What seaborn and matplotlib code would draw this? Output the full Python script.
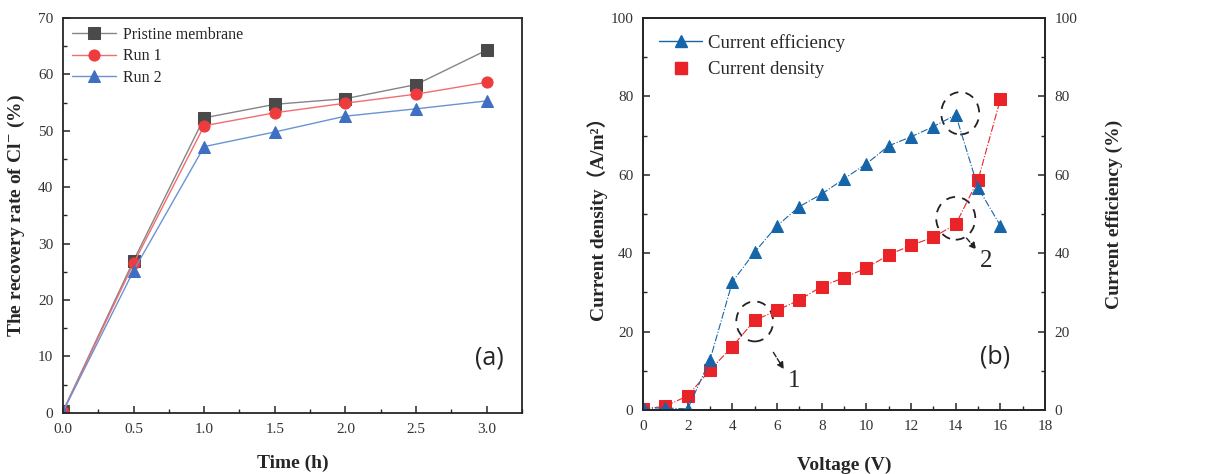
import numpy as np
import pandas as pd
import matplotlib
matplotlib.use('Agg')
import matplotlib.pyplot as plt
import seaborn as sns
from matplotlib.patches import Ellipse
from matplotlib.lines import Line2D

# (a) recovery rate of Cl- vs time
time_h = [0.0, 0.5, 1.0, 1.5, 2.0, 2.5, 3.0]
pristine = [0.3, 27.0, 52.3, 54.7, 55.7, 58.2, 64.3]
run1 = [0.2, 26.5, 50.9, 53.2, 54.9, 56.5, 58.6]
run2 = [0.2, 25.2, 47.2, 49.8, 52.6, 53.9, 55.3]

# (b) current efficiency / density vs voltage
voltage = [0, 1, 2, 3, 4, 5, 6, 7, 8, 9, 10, 11, 12, 13, 14, 15, 16]
efficiency = [0.5, 0.5, 0.3, 12.8, 32.7, 40.3, 47.0, 51.9, 55.1, 59.0, 62.8,
              67.4, 69.7, 72.3, 75.3, 56.7, 47.0]
density = [0.2, 1.0, 3.6, 10.2, 16.2, 22.9, 25.4, 28.1, 31.5, 33.8, 36.2,
           39.6, 42.0, 44.1, 47.4, 58.7, 79.3]

sns.set_style('ticks')
plt.rcParams['font.family'] = ['Liberation Serif', 'DejaVu Serif']
plt.rcParams['mathtext.fontset'] = 'stix'
plt.rcParams['xtick.direction'] = 'in'
plt.rcParams['ytick.direction'] = 'in'

fig = plt.figure(figsize=(12.11, 4.74), dpi=100)
ax1 = fig.add_axes([0.052, 0.129, 0.379, 0.833])
ax2 = fig.add_axes([0.531, 0.135, 0.332, 0.827])

# ---- panel (a)
df_a = pd.DataFrame({'time': time_h * 3,
                     'rate': pristine + run1 + run2,
                     'series': ['Pristine membrane'] * 7 + ['Run 1'] * 7 + ['Run 2'] * 7})
palette = {'Pristine membrane': '#4a4a4a', 'Run 1': '#ee3b3e', 'Run 2': '#3e6fc1'}
line_cols = {'Pristine membrane': '#858585', 'Run 1': '#f26d6f', 'Run 2': '#6a93d4'}
markers = {'Pristine membrane': 's', 'Run 1': 'o', 'Run 2': '^'}
for name, grp in df_a.groupby('series', sort=False):
    sns.lineplot(data=grp, x='time', y='rate', ax=ax1, color=line_cols[name], lw=1.0,
                 marker=markers[name], markersize=8, markerfacecolor=palette[name],
                 markeredgecolor=palette[name], label=name)

ax1.set_xlim(0, 3.25)
ax1.set_ylim(0, 70)
ax1.set_xticks(np.arange(0, 3.01, 0.5))
ax1.set_xticks(np.arange(0, 3.26, 0.25), minor=True)
ax1.set_yticks(np.arange(0, 71, 10))
ax1.set_yticks(np.arange(0, 71, 5), minor=True)
ax1.set_xticklabels([f'{v:.1f}' for v in np.arange(0, 3.01, 0.5)])
ax1.set_xlabel('Time (h)', fontsize=14, fontweight='bold', labelpad=14)
ax1.set_ylabel('The recovery rate of Cl$^{-}$ (%)', fontsize=14, fontweight='bold', labelpad=8)
ax1.text(0.93, 0.14, '(a)', transform=ax1.transAxes, fontsize=18,
         family='Open Sans', ha='center', va='center')
ax1.legend(loc='upper left', frameon=False, fontsize=11.5, handlelength=2.8,
           handletextpad=0.4, borderaxespad=0.15, labelspacing=0.35)

# ---- panel (b)
df_b = pd.DataFrame({'voltage': voltage, 'efficiency': efficiency, 'density': density})
blue = '#1565a8'
red = '#ea2328'
ax3 = ax2.twinx()
sns.lineplot(data=df_b, x='voltage', y='density', ax=ax2, color=red, lw=0.8,
             linestyle='-.', marker='s', markersize=8, markeredgecolor=red)
sns.lineplot(data=df_b, x='voltage', y='efficiency', ax=ax3, color=blue, lw=0.8,
             linestyle='-.', marker='^', markersize=9, markeredgecolor=blue)

for a in (ax2, ax3):
    a.set_ylim(0, 100)
    a.set_yticks(np.arange(0, 101, 20))
    a.set_yticks(np.arange(0, 101, 10), minor=True)
ax2.set_xlim(0, 18)
ax2.set_xticks(np.arange(0, 19, 2))
ax2.set_xticks(np.arange(0, 19, 1), minor=True)
ax2.set_xlabel('Voltage (V)', fontsize=14, fontweight='bold', labelpad=17)
ax2.set_ylabel('Current density\uff08A/m²\uff09', fontsize=14, fontweight='bold',
               family=['Liberation Serif', 'Noto Sans CJK SC'], labelpad=2)
ax3.set_ylabel('Current efficiency (%)', fontsize=14, fontweight='bold', labelpad=20)
ax2.text(0.875, 0.135, '(b)', transform=ax2.transAxes, fontsize=18,
         family='Open Sans', ha='center', va='center')

# dashed circles and arrows
for cx, cy, w, h in [(5.0, 22.6, 1.65, 10.2), (14.2, 75.7, 1.7, 10.8), (14.0, 48.9, 1.75, 10.9)]:
    ax2.add_patch(Ellipse((cx, cy), w, h, fill=False, ls=(0, (5, 4)), lw=1.3, color='#222222'))
ax2.annotate('', xy=(6.37, 9.8), xytext=(5.77, 15.3),
             arrowprops=dict(arrowstyle='-|>', ls='--', color='#222222', lw=1.0))
ax2.text(6.75, 7.5, '1', fontsize=18, ha='center', va='center')
ax2.annotate('', xy=(15.0, 40.4), xytext=(14.4, 44.4),
             arrowprops=dict(arrowstyle='-|>', ls='--', color='#222222', lw=1.0))
ax2.text(15.35, 38.0, '2', fontsize=18, ha='center', va='center')

handles = [Line2D([], [], color=blue, lw=1.0, marker='^', markersize=9),
           Line2D([], [], color=red, lw=0, marker='s', markersize=8)]
ax2.legend(handles, ['Current efficiency', 'Current density'], loc='upper left',
           frameon=False, fontsize=13.5, handlelength=2.3, handletextpad=0.3,
           borderaxespad=0.45, labelspacing=0.5)
if ax3.get_legend() is not None:
    ax3.get_legend().remove()

for a in (ax1, ax2, ax3):
    for s in a.spines.values():
        s.set_linewidth(1.3)
        s.set_visible(True)
    a.tick_params(which='major', length=5, width=1.1, labelsize=11, labelcolor='#333333', pad=7)
    a.tick_params(which='minor', length=3, width=1.0)
ax1.tick_params(which='both', top=False, right=False)
ax2.tick_params(which='both', top=False, right=False)
ax3.tick_params(which='both', right=True)

fig.savefig('out.png', dpi=100)
